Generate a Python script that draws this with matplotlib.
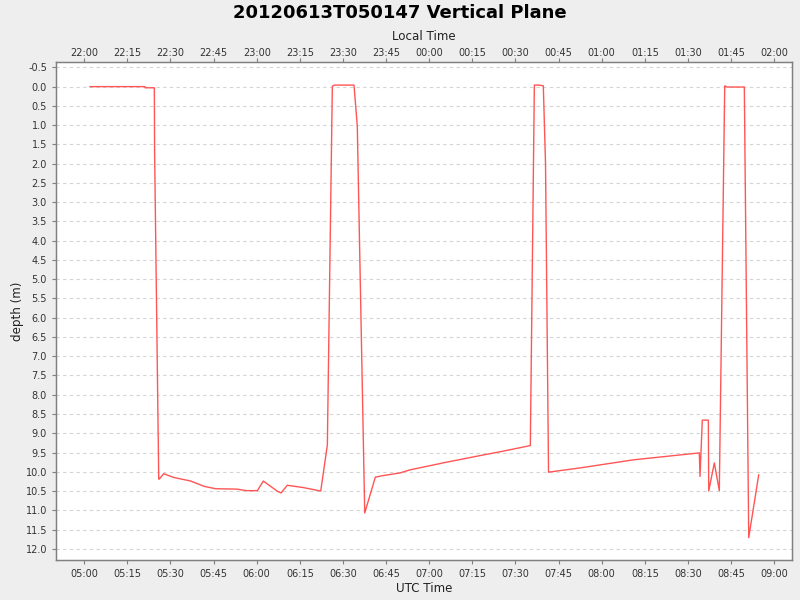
import matplotlib
matplotlib.use("Agg")
import matplotlib.pyplot as plt
import matplotlib.dates as mdates
import pandas as pd

title = "20120613T050147 Vertical Plane"
date = "2012-06-13"
utc_times = [
    "05:02:01", "05:21:09", "05:21:12", "05:24:23", "05:24:29", "05:25:55",
    "05:26:05", "05:27:39", "05:31:14", "05:37:02", "05:41:46", "05:45:44",
    "05:53:02", "05:56:31", "06:00:13", "06:02:18", "06:07:04", "06:08:27",
    "06:10:38", "06:16:13", "06:22:16", "06:24:34", "06:26:18", "06:26:59",
    "06:33:50", "06:34:59", "06:37:34", "06:41:15", "06:43:50", "06:49:50",
    "06:53:19", "07:06:05", "07:17:40", "07:24:38", "07:35:10", "07:36:34",
    "07:38:18", "07:39:41", "07:40:27", "07:41:30", "07:52:27", "08:11:00",
    "08:33:57", "08:34:11", "08:34:59", "08:37:05", "08:37:13", "08:39:10",
    "08:40:54", "08:42:47", "08:43:35", "08:49:36", "08:51:08", "08:54:36",
]
depth = [
    0.00, 0.00, 0.03, 0.03, 1.70, 10.19,
    10.19, 10.05, 10.15, 10.24, 10.38, 10.44,
    10.45, 10.49, 10.49, 10.24, 10.50, 10.55,
    10.35, 10.41, 10.50, 9.30, -0.01, -0.04,
    -0.04, 1.03, 11.07, 10.14, 10.10, 10.03,
    9.95, 9.75, 9.58, 9.48, 9.32, -0.04,
    -0.04, -0.02, 2.00, 10.01, 9.90, 9.69,
    9.51, 10.12, 8.66, 8.66, 10.50, 9.77,
    10.49, -0.02, 0.01, 0.01, 11.71, 10.08,
]
local_offset_hours = -7
y_ticks = [i * 0.5 for i in range(-1, 25)]

t = pd.to_datetime([f"{date} {s}" for s in utc_times])
x = mdates.date2num(t.to_pydatetime())

bg = "#EEEEEE"
fig = plt.figure(figsize=(8, 6), dpi=100, facecolor=bg)
ax = fig.add_axes([0.07, 0.0667, 0.92, 0.83])
ax.set_facecolor("white")

ax.plot(x, depth, color="#FF5555", lw=1.0)

xmin = mdates.date2num(pd.Timestamp(f"{date} 04:50:11").to_pydatetime())
xmax = mdates.date2num(pd.Timestamp(f"{date} 09:06:11").to_pydatetime())
ax.set_xlim(xmin, xmax)
ax.set_ylim(12.29, -0.64)

ax.set_yticks(y_ticks)
ax.set_yticklabels([f"{v:.1f}" for v in y_ticks])
ax.yaxis.grid(True, color="#D4D4D4", linestyle=(0, (3, 3)), lw=0.8)
ax.xaxis.grid(False)

loc = mdates.MinuteLocator(byminute=[0, 15, 30, 45])
fmt = mdates.DateFormatter("%H:%M")
ax.xaxis.set_major_locator(loc)
ax.xaxis.set_major_formatter(fmt)

for s in ax.spines.values():
    s.set_color("#808080")
    s.set_linewidth(1.0)

ax.tick_params(axis="both", labelsize=7, colors="#808080", labelcolor="#333333",
               length=3, width=0.8)

ax.set_xlabel("UTC Time", fontsize=8.6, color="#222222", labelpad=2)
ax.set_ylabel("depth (m)", fontsize=8.6, color="#222222", labelpad=1)

off = local_offset_hours / 24.0
ax2 = ax.twiny()
ax2.set_xlim(xmin + off, xmax + off)
ax2.xaxis.set_major_locator(mdates.MinuteLocator(byminute=[0, 15, 30, 45]))
ax2.xaxis.set_major_formatter(mdates.DateFormatter("%H:%M"))
ax2.tick_params(axis="x", labelsize=7, colors="#808080", labelcolor="#333333",
                length=3, width=0.8, pad=0.2)
for s in ax2.spines.values():
    s.set_color("#808080")
ax2.set_xlabel("Local Time", fontsize=8.6, color="#222222", labelpad=5.5)

fig.text(0.5, 0.993, title, ha="center", va="top", fontsize=13, fontweight="bold")

fig.savefig("out.png", dpi=100, facecolor=bg)
